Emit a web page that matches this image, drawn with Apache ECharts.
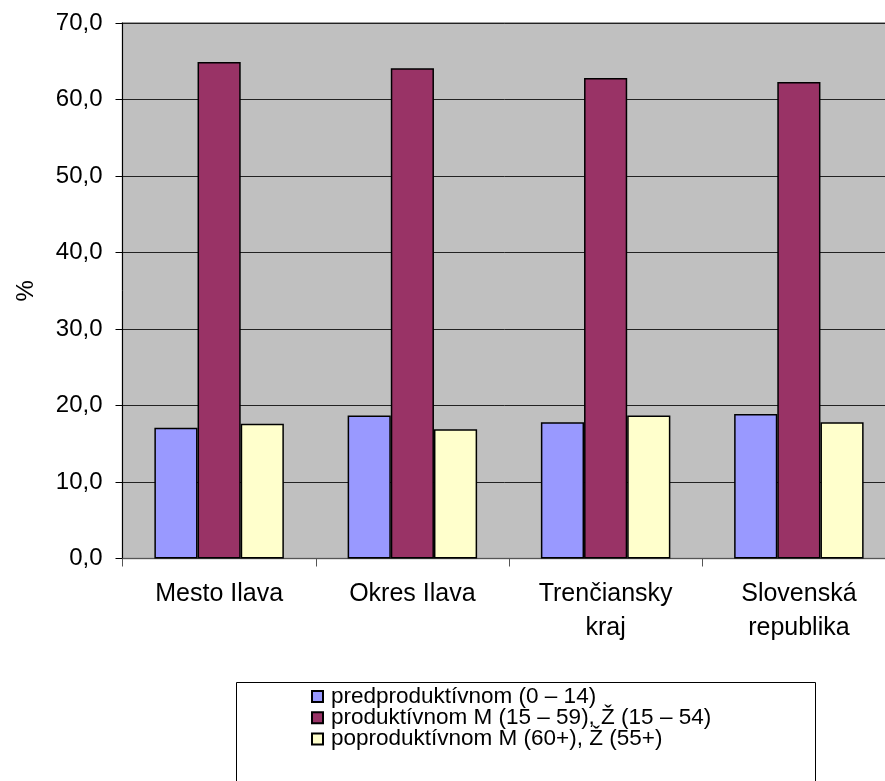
<!DOCTYPE html>
<html>
<head>
<meta charset="utf-8">
<script src="https://cdn.jsdelivr.net/npm/echarts@6/dist/echarts.min.js"></script>
<style>
  html, body { margin: 0; padding: 0; background: #fff; }
  #chart { width: 885px; height: 781px; }
</style>
</head>
<body>
<div id="chart"></div>
<script>
// Age structure of the population, share in %
const categories = ['Mesto Ilava', 'Okres Ilava', 'Trenčiansky\nkraj', 'Slovenská\nrepublika'];
const seriesNames = [
  'predproduktívnom (0 – 14)',
  'produktívnom M (15 – 59), Ž (15 – 54)',
  'poproduktívnom M (60+), Ž (55+)'
];
const preProductive = [17.1, 18.7, 17.8, 18.9];
const productive = [64.9, 64.1, 62.8, 62.3];
const postProductive = [17.6, 16.9, 18.7, 17.8];

const colors = ['#9999FF', '#993366', '#FFFFCC'];
const FONT = 'Liberation Sans, Arial, sans-serif';

const chart = echarts.init(document.getElementById('chart'), null, { renderer: 'canvas' });

const barSeries = [preProductive, productive, postProductive].map((values, i) => ({
  name: seriesNames[i],
  type: 'bar',
  data: values,
  barGap: '0%',
  barCategoryGap: '33%',
  itemStyle: { color: colors[i], borderColor: '#000', borderWidth: 1.5 }
}));

chart.setOption({
  animation: false,
  textStyle: { fontFamily: FONT },
  grid: {
    left: 122.5, top: 23, width: 773, height: 535.5,
    outerBoundsMode: 'none',
    containLabel: false,
    show: true, backgroundColor: '#C0C0C0', borderColor: '#808080', borderWidth: 1.5
  },
  graphic: [{
    type: 'rect',
    shape: { x: 236.5, y: 682.5, width: 579, height: 120 },
    style: { fill: '#fff', stroke: '#000', lineWidth: 1 },
    z: 0
  }],
  legend: {
    orient: 'vertical',
    left: 311, top: 685,
    padding: 0,
    itemWidth: 11, itemHeight: 11, itemGap: -1.7,
    icon: 'rect',
    textStyle: { fontFamily: FONT, fontSize: 22.5, lineHeight: 21, color: '#000', padding: [0, 0, 0, 3] },
    data: seriesNames,
    z: 5
  },
  xAxis: {
    type: 'category',
    data: categories,
    axisLine: { lineStyle: { color: '#555', width: 1 } },
    axisTick: { show: true, length: 8, lineStyle: { color: '#555' } },
    axisLabel: { fontSize: 25, color: '#000', margin: 19, lineHeight: 34, fontFamily: FONT }
  },
  yAxis: {
    type: 'value',
    min: 0, max: 70, interval: 10,
    name: '%',
    nameLocation: 'middle',
    nameGap: 84,
    nameRotate: 90,
    nameTextStyle: { fontSize: 24, color: '#000', fontFamily: FONT },
    axisLine: { show: true, lineStyle: { color: '#000', width: 1 } },
    axisTick: { show: true, length: 7, lineStyle: { color: '#000' } },
    axisLabel: {
      fontSize: 24, color: '#000', margin: 20, fontFamily: FONT,
      formatter: v => v.toFixed(1).replace('.', ',')
    },
    splitLine: { show: true, lineStyle: { color: '#222', width: 1 } }
  },
  series: barSeries
});
</script>
</body>
</html>
